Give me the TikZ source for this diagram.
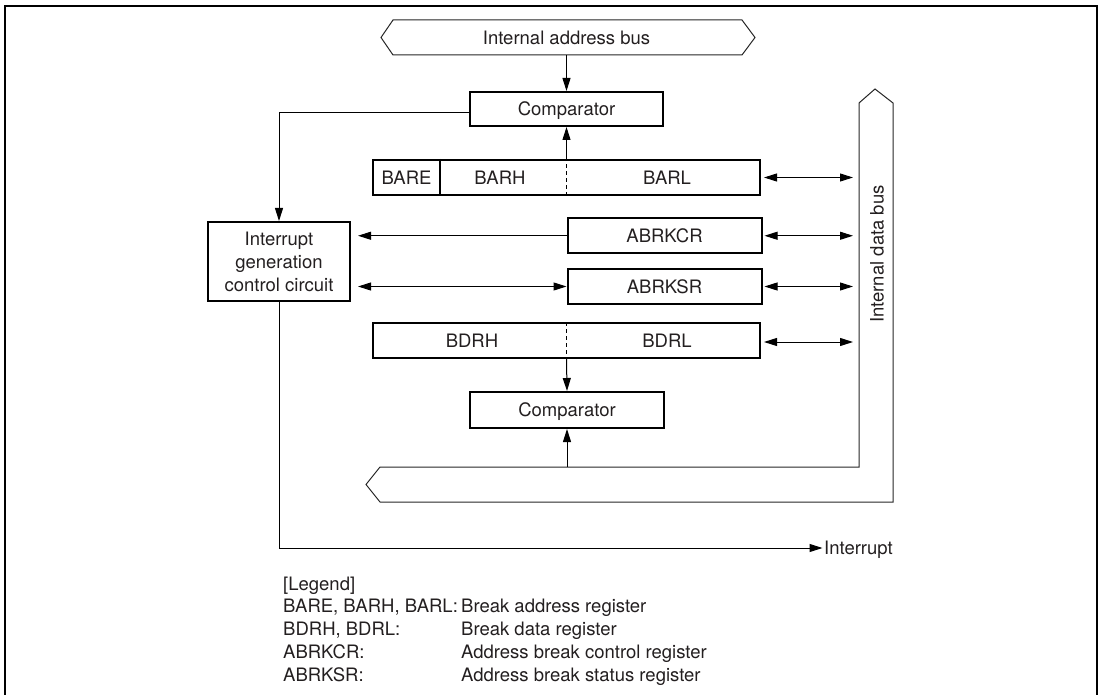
\documentclass[tikz,border=0pt]{standalone}
\usepackage{fontspec}
\setmainfont{TeX Gyre Heros}
\usetikzlibrary{arrows.meta,calc}
\definecolor{txt}{RGB}{35,31,32}
\begin{document}
\begin{tikzpicture}[x=1pt,y=-1pt,
  every node/.style={font=\fontsize{18.5}{23}\selectfont, text=txt, inner sep=0pt},
  lab/.style={text height=13.3pt, text depth=0pt},
  reg/.style={draw=black, line width=2pt, lab, minimum height=35pt},
  con/.style={line width=1pt, draw=black},
  tip/.style={-{Triangle[length=13pt,width=8pt]}},
  dtip/.style={{Triangle[length=13pt,width=8pt]}-{Triangle[length=13pt,width=8pt]}},
  busline/.style={line width=1pt, draw=black!85},
  divline/.style={line width=1pt, draw=black, dash pattern=on 4pt off 3pt},
]
\useasboundingbox (0,0) rectangle (1101,695);
% frame
\draw[line width=2pt] (5,720) -- (5,6) -- (1097,6) -- (1097,720);

% internal address bus
\draw[busline] (381,37.5) -- (393,20) -- (742,20) -- (755,37.5) -- (742,55) -- (393,55) -- cycle;
\node[lab] (ab) at (566.5,37.5) {Internal address bus};
\coordinate (abb) at (566.5,55);

% internal data bus
\draw[busline] (859,467) -- (859,103) -- (875,89) -- (893,103) -- (893,502) -- (380,502) -- (366,484.5) -- (380,467) -- cycle;
\node[lab, rotate=90] (db) at (877,254) {Internal data bus};
\coordinate (dbin) at (853,0);
\coordinate (dbh) at (567,467);

% boxes
\node[reg, minimum width=193pt, minimum height=34pt] (cmp1) at (566.5,109) {Comparator};
\node[reg, minimum width=387pt] (bar) at (566.5,177.5) {};
\node[lab] (tbare) at (406.5,177.5) {BARE};
\node[lab] (tbarh) at (500,177.5) {BARH};
\node[lab] (tbarl) at (667,177.5) {BARL};
\draw[line width=2pt] (440,0 |- bar.north) -- (440,0 |- bar.south);
\draw[divline] (bar.south) -- (bar.north);

\node[draw=black, line width=2pt, minimum width=142pt, minimum height=79pt, align=center] (circ) at (279,261.5) {Interrupt\\generation\\control circuit};

\node[reg, minimum width=194pt] (abrkcr) at (664.5,235.75) {ABRKCR};
\node[reg, minimum width=194pt] (abrksr) at (664.5,286.5) {ABRKSR};

\node[reg, minimum width=387pt] (bdr) at (566.5,340.5) {};
\node[lab] (tbdrh) at (472,340.5) {BDRH};
\node[lab] (tbdrl) at (667,340.5) {BDRL};
\draw[divline] (bdr.north) -- (bdr.south);

\node[reg, minimum width=194pt, minimum height=36pt] (cmp2) at (567,410) {Comparator};

% connectors
\draw[con,tip] (abb) -- (cmp1.north);
\draw[con,tip] (bar.north) -- (cmp1.south);
\draw[con,tip] ([yshift=-4pt]cmp1.west) -| (circ.north);
\draw[con,tip,shorten >=7pt] (abrkcr.west) -- (abrkcr.west -| circ.east);
\draw[con,dtip,shorten <=7pt] (abrksr.west -| circ.east) -- (abrksr.west);
\draw[con,tip] (bdr.south) -- (cmp2.north);
\draw[con,tip] (dbh) -- (cmp2.south);

\draw[con,dtip,shorten <=3pt] (bar.east) -- (bar.east -| dbin);
\draw[con,dtip,shorten <=2pt] (abrkcr.east) -- (abrkcr.east -| dbin);
\draw[con,dtip,shorten <=2pt] (abrksr.east) -- (abrksr.east -| dbin);
\draw[con,dtip,shorten <=3pt] ([yshift=-1.5pt]bdr.east) -- ([yshift=-1.5pt]bdr.east -| dbin);

\node[lab, anchor=west] (intr) at (824,548) {Interrupt};
\draw[con,tip,shorten >=1.5pt] (circ.south) |- (intr.west);

% legend
\node[anchor=base west] (lg0) at (283,590) {[Legend]};
\node[anchor=base west] (lg1) at (283,612.5) {BARE, BARH, BARL:};
\node[anchor=base west] (lg2) at (283,635.5) {BDRH, BDRL:};
\node[anchor=base west] (lg3) at (283,658.5) {ABRKCR:};
\node[anchor=base west] (lg4) at (283,681.5) {ABRKSR:};
\node[anchor=base west] (ld1) at (461,612.5) {Break address register};
\node[anchor=base west] (ld2) at (461,635.5) {Break data register};
\node[anchor=base west] (ld3) at (461,658.5) {Address break control register};
\node[anchor=base west] (ld4) at (461,681.5) {Address break status register};
\end{tikzpicture}
\end{document}
